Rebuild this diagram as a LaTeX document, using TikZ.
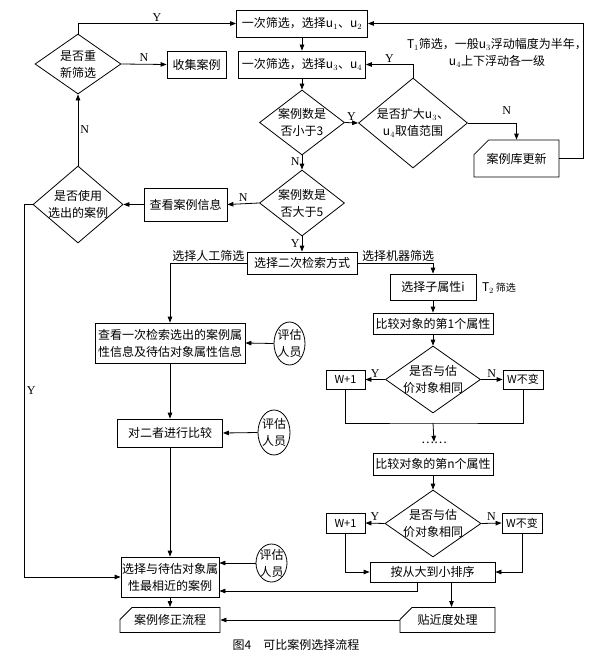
\documentclass[tikz,border=0pt]{standalone}
\usepackage{fontspec}
\setmainfont{Noto Sans CJK SC}
\newfontfamily\latinfont{Liberation Serif}
\usetikzlibrary{shapes.geometric, shapes.misc, arrows.meta}

\begin{document}
\begin{tikzpicture}[x=1pt, y=-1pt, line width=0.8pt,
            >={Triangle[length=6pt, width=4.5pt]},
            font=\fontsize{12}{17}\selectfont,
            squarednode/.style={rectangle, draw, inner sep=1pt, align=center},
            cardnode/.style={chamfered rectangle, chamfered rectangle corners=north west, draw, inner sep=1pt},
            diamondnode/.style={diamond, draw, inner sep=0pt},
            ellipsenode/.style={ellipse, draw, inner sep=0pt},
            yn/.style={font=\latinfont\fontsize{12}{14}\selectfont, inner sep=2pt},
            ]
            \useasboundingbox (0,0) rectangle (594,661);

            % first screening
            \node[squarednode, minimum width=131pt, minimum height=27pt] (S1) at (302,23.5) {一次筛选，选择$\mathrm{u}_1$、$\mathrm{u}_2$};
            \node[squarednode, minimum width=127pt, minimum height=27pt] (S2) at (302,64.5) {一次筛选，选择$\mathrm{u}_3$、$\mathrm{u}_4$};
            \node[diamondnode, minimum width=86pt, minimum height=60pt, label={[align=center]center:是否重\\新筛选}] (RE) at (78,64) {};
            \node[squarednode, minimum width=59pt, minimum height=27pt] (CL) at (196.5,64.5) {收集案例};
            \node[diamondnode, minimum width=85pt, minimum height=65pt, label={[align=center]center:案例数是\\否小于3}] (L3) at (302,122.5) {};
            \node[diamondnode, minimum width=109pt, minimum height=90pt, label={[align=center]center:是否扩大$\mathrm{u}_3$、\\$\mathrm{u}_4$取值范围}] (EX) at (413,123) {};
            \node[cardnode, minimum width=85pt, minimum height=37pt, chamfered rectangle xsep=7pt, chamfered rectangle ysep=8pt] (UP) at (516.5,158.5) {案例库更新};
            \node[align=center] (T1) at (497,53) {$\mathrm{T}_1$筛选，一般$\mathrm{u}_3$浮动幅度为半年，\\$\mathrm{u}_4$上下浮动各一级};

            \node[diamondnode, minimum width=85pt, minimum height=66pt, label={[align=center]center:案例数是\\否大于5}] (M5) at (302,203) {};
            \node[squarednode, minimum width=83pt, minimum height=33pt] (LK) at (185.5,204.5) {查看案例信息};
            \node[diamondnode, minimum width=90pt, minimum height=77pt, label={[align=center]center:是否使用\\选出的案例}] (US) at (78,204.5) {};

            % second screening
            \node[squarednode, minimum width=110pt, minimum height=22pt] (MD) at (302,263) {选择二次检索方式};
            \node[squarednode, minimum width=86pt, minimum height=26pt] (SB) at (433,287) {选择子属性i};
            \node (T2) at (499,288) {$\mathrm{T}_2$\,{\fontsize{10}{12}\selectfont 筛选}};
            \node[squarednode, minimum width=120pt, minimum height=21pt] (C1) at (433,323.5) {比较对象的第1个属性};
            \node[diamondnode, minimum width=95pt, minimum height=67pt, label={[align=center]center:是否与估\\价对象相同}] (D1) at (433,379.5) {};
            \node[squarednode, minimum width=39pt, minimum height=19pt, font=\fontsize{11}{13}\selectfont] (WA) at (345.5,379.5) {W+1};
            \node[squarednode, minimum width=40pt, minimum height=19pt, font=\fontsize{11}{13}\selectfont] (WB) at (523,379.5) {W不变};
            \coordinate (J1) at (433,423);
            \node[inner sep=0pt] (DT) at (434,443) {……};
            \node[squarednode, minimum width=120pt, minimum height=22pt] (CN) at (433,464) {比较对象的第n个属性};
            \node[diamondnode, minimum width=96pt, minimum height=67pt, label={[align=center]center:是否与估\\价对象相同}] (D2) at (433,523.5) {};
            \node[squarednode, minimum width=39pt, minimum height=20pt, font=\fontsize{11}{13}\selectfont] (WC) at (345.5,523) {W+1};
            \node[squarednode, minimum width=40pt, minimum height=20pt, font=\fontsize{11}{13}\selectfont] (WD) at (522,523) {W不变};
            \node[squarednode, minimum width=125pt, minimum height=20pt] (SO) at (432.5,572) {按从大到小排序};
            \node[cardnode, minimum width=95pt, minimum height=24pt, chamfered rectangle xsep=6pt, chamfered rectangle ysep=6pt] (NR) at (447.5,620) {贴近度处理};

            % manual screening
            \node[squarednode, minimum width=150pt, minimum height=40pt] (VW) at (170,343) {查看一次检索选出的案例属\\性信息及待估对象属性信息};
            \node[ellipsenode, minimum width=31pt, minimum height=43pt, label={[align=center]center:评估\\人员}] (E1) at (289.5,343.5) {};
            \node[squarednode, minimum width=105pt, minimum height=28pt] (CM) at (170,433) {对二者进行比较};
            \node[ellipsenode, minimum width=32pt, minimum height=45pt, label={[align=center]center:评估\\人员}] (E2) at (274,432.5) {};
            \node[squarednode, minimum width=97pt, minimum height=40pt] (BS) at (170,577) {选择与待估对象属\\性最相近的案例};
            \node[ellipsenode, minimum width=31pt, minimum height=38pt, label={[align=center]center:评估\\人员}] (E3) at (271.5,563) {};
            \node[cardnode, minimum width=100pt, minimum height=24pt, chamfered rectangle xsep=6pt, chamfered rectangle ysep=6pt] (FX) at (170,620) {案例修正流程};

            \node (CP) at (296,645) {图4\hspace{1em}可比案例选择流程};

            \draw[->] (RE.north) |- (S1.west) node[yn, above, pos=0.75] {Y};
            \draw[->] (RE.east) -- (CL.west) node[yn, above, midway] {N};
            \draw[->] (S1.south) -- (S2.north);
            \draw[->] (S2.south) -- (L3.north);
            \draw[->] (L3.east) -- (EX.west) node[yn, above, midway] {Y};
            \draw[->] (EX.north) |- (S2.east) node[yn, above, pos=0.75] {Y};
            \draw[->] (EX.east) -| (UP.north) node[yn, above, pos=0.4, yshift=6pt] {N};
            \draw[->] (UP.east) -- ++(24,0) |- (S1.east);
            \draw[->] (L3.south) -- (M5.north) node[yn, left, pos=0.4] {N};
            \draw[->] (M5.west) -- (LK.east) node[yn, above, midway] {N};
            \draw[->] (LK.west) -- (US.east);
            \draw[->] (US.north) -- (RE.south) node[yn, right, midway] {N};
            \draw[->] (US.west) -- ++(-8,0) |- (BS.west) node[yn, right, pos=0.25] {Y};
            \draw[->] (M5.south) -- (MD.north) node[yn, left, midway] {Y};

            \draw[->] (MD.west) -| (VW.north) node[above, pos=0.25, inner sep=1pt] {选择人工筛选};
            \draw[->] (MD.east) -| (SB.north) node[above, pos=0.27, inner sep=1pt] {选择机器筛选};
            \draw[->] (SB.south) -- (C1.north);
            \draw[->] (C1.south) -- (D1.north);
            \draw[->] (D1.west) -- (WA.east) node[yn, above, midway] {Y};
            \draw[->] (D1.east) -- (WB.west) node[yn, above, midway] {N};
            \draw (WA.south) |- (J1) -| (WB.south);
            \draw[->] (J1) -- (DT.north);
            \draw[->] (CN.south) -- (D2.north);
            \draw[->] (D2.west) -- (WC.east) node[yn, above, midway] {Y};
            \draw[->] (D2.east) -- (WD.west) node[yn, above, midway] {N};
            \draw[->] (WC.south) |- (SO.west);
            \draw[->] (WD.south) |- (SO.east);
            \draw[->] ([xshift=-15pt]SO.south) |- ([yshift=-14pt]BS.east);
            \draw[->] ([xshift=19pt]SO.south) -- ([xshift=19pt]SO.south |- NR.north);
            \draw[->] (NR.west) -- (FX.east);

            \draw[->] (E1.west) -- (VW.east);
            \draw[->] (VW.south) -- (CM.north);
            \draw[->] (E2.west) -- (CM.east);
            \draw[->] (CM.south) -- (BS.north);
            \draw[->] (E3.west) -- (E3.west -| BS.east);
            \draw[->] (BS.south) -- (FX.north);
        \end{tikzpicture}
\end{document}
